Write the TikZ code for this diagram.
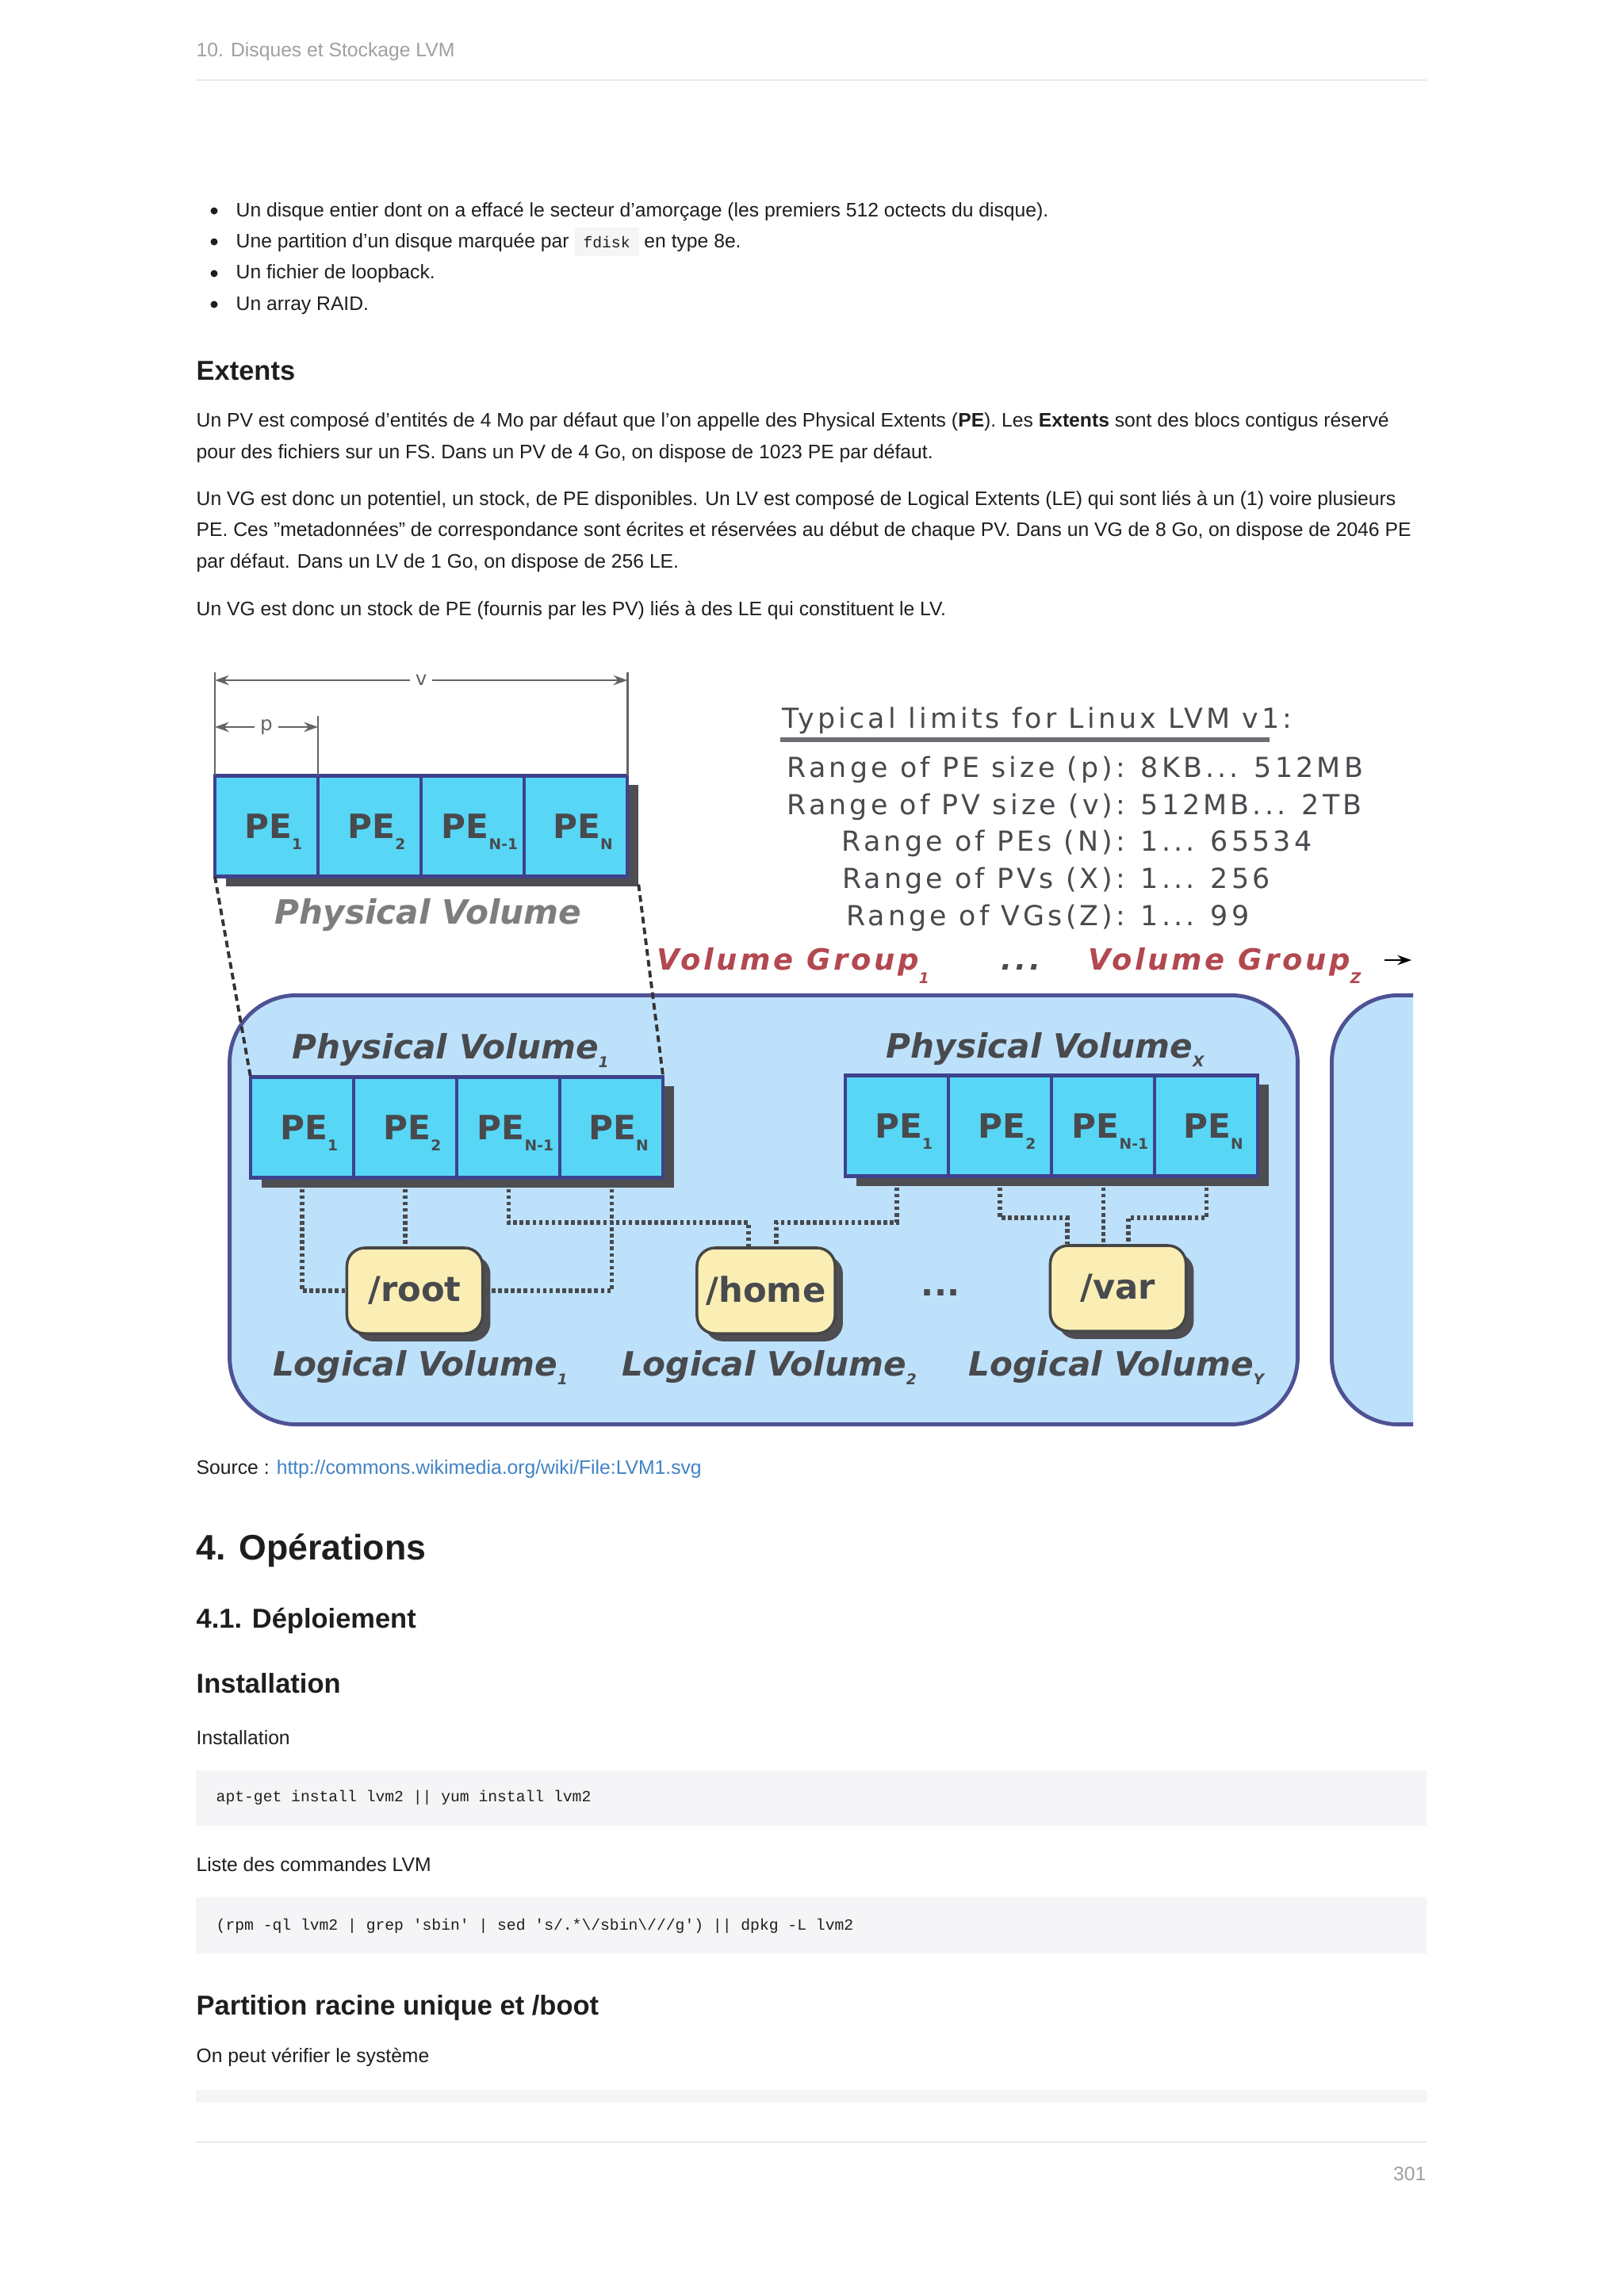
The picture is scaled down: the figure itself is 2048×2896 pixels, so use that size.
\documentclass[tikz,border=0pt]{standalone}
\usepackage{fontspec}
\setmainfont{Liberation Sans}
\setmonofont{Liberation Mono}
\newfontfamily\dvsans{DejaVu Sans}
\newfontfamily\dvspaced[LetterSpace=12]{DejaVu Sans}
\newfontfamily\dvwide[LetterSpace=10]{DejaVu Sans}
\usetikzlibrary{positioning,shadows,arrows.meta}

\definecolor{pefill}{RGB}{88,214,246}
\definecolor{peedge}{RGB}{62,66,140}
\definecolor{shadowgray}{RGB}{78,78,82}
\definecolor{vgfill}{RGB}{190,225,251}
\definecolor{vgedge}{RGB}{78,82,148}
\definecolor{lvfill}{RGB}{250,238,180}
\definecolor{lvedge}{RGB}{70,70,70}
\definecolor{inkgray}{RGB}{72,74,78}
\definecolor{lightink}{RGB}{125,125,125}
\definecolor{vgred}{RGB}{178,72,80}
\definecolor{linkblue}{RGB}{65,131,196}
\definecolor{codebg}{RGB}{245,245,247}
\definecolor{rulegray}{RGB}{234,234,236}
\definecolor{headgray}{RGB}{160,160,160}
\definecolor{bodyink}{RGB}{30,30,30}
\definecolor{dimgray}{RGB}{100,100,100}

% subscript put lower than the base line
\newcommand\sbs[2][4pt]{\lower#1\hbox{\fontsize{5.3}{5}\selectfont#2}}

\tikzset{
  body/.style={anchor=base west, inner sep=0pt, text=bodyink, align=left,
    font=\fontsize{7.02}{11.2}\selectfont},
  head/.style={body, font=\fontsize{9.8}{12}\selectfont\bfseries},
  codeline/.style={anchor=base west, inner sep=0pt, text=bodyink,
    font=\ttfamily\fontsize{5.6}{7}\selectfont},
  pecell/.style={draw=peedge, fill=pefill, line width=1.2pt, inner sep=0pt,
    outer sep=0pt, minimum width=1.3cm, minimum height=1.27cm, text depth=0pt,
    text=inkgray, font=\dvsans\bfseries\fontsize{12}{12}\selectfont,
    drop shadow={shadow xshift=4pt, shadow yshift=-3.4pt, fill=shadowgray, opacity=1}},
  lvbox/.style={draw=lvedge, fill=lvfill, line width=1pt, rounded corners=6.5pt,
    minimum width=1.71cm, minimum height=1.08cm, text=inkgray,
    font=\dvsans\bfseries\fontsize{12.3}{12}\selectfont,
    drop shadow={shadow xshift=2.8pt, shadow yshift=-2.8pt, fill=shadowgray, opacity=1}},
  vgbox/.style={draw=vgedge, fill=vgfill, line width=1.4pt, rounded corners=24pt},
  vlabel/.style={anchor=base, inner sep=0pt, text=inkgray,
    font=\dvsans\bfseries\itshape\fontsize{12}{12}\selectfont},
  vgtitle/.style={anchor=base west, inner sep=0pt, text=vgred,
    font=\dvwide\bfseries\itshape\fontsize{10.5}{11}\selectfont},
  limit/.style={anchor=base east, inner sep=0pt, text=inkgray,
    font=\dvspaced\fontsize{9.9}{10}\selectfont},
  limitval/.style={limit, anchor=base west},
  dimline/.style={draw=dimgray, line width=0.8pt},
  pvdash/.style={draw=black!80, line width=1.1pt, dash pattern=on 2.4pt off 1.5pt},
  lvlink/.style={draw=inkgray, line width=1.5pt, dash pattern=on 1.3pt off 1pt},
  >={Stealth[length=5pt,width=3.5pt]}
}

\begin{document}
\begin{tikzpicture}[x=0.01cm, y=-0.01cm]
\useasboundingbox (0,0) rectangle (2048,2896);
\fill[white] (0,0) rectangle (2048,2896);

% page head
\node[body, text=headgray] (pagehead) at (247,71) {10. Disques et Stockage LVM};
\draw[rulegray, line width=0.8pt] (247,101) -- (1799,101);

% list
\fill[bodyink] (270,266) circle (4.5);
\fill[bodyink] (270,305) circle (4.5);
\fill[bodyink] (270,345) circle (4.5);
\fill[bodyink] (270,384) circle (4.5);
\node[body] (item1) at (297,273) {Un disque entier dont on a effacé le secteur d'amorçage (les premiers 512 octects du disque).};
\node[body] (item2) at (297,312) {Une partition d'un disque marquée par {\setlength\fboxsep{1.1mm}\colorbox{codebg}{\ttfamily\fontsize{5.6}{7}\selectfont fdisk}} en type 8e.};
\node[body] (item3) at (297,351) {Un fichier de loopback.};
\node[body] (item4) at (297,391) {Un array RAID.};

\node[head] (extents) at (247,479) {Extents};
\node[body] (para1) at (247,578) {Un PV est composé d'entités de 4 Mo par défaut que l'on appelle des Physical Extents (\textbf{PE}). Les \textbf{Extents} sont des blocs contigus réservé\\pour des fichiers sur un FS. Dans un PV de 4 Go, on dispose de 1023 PE par défaut.};
\node[body] (para2) at (247,716) {Un VG est donc un potentiel, un stock, de PE disponibles. Un LV est composé de Logical Extents (LE) qui sont liés à un (1) voire plusieurs\\PE. Ces "metadonnées" de correspondance sont écrites et réservées au début de chaque PV. Dans un VG de 8 Go, on dispose de 2046 PE\\par défaut. Dans un LV de 1 Go, on dispose de 256 LE.};
\node[body] (para3) at (247,776) {Un VG est donc un stock de PE (fournis par les PV) liés à des LE qui constituent le LV.};

% lone physical volume
\node[pecell] (t1) at (336,1042) {\hspace*{5pt}PE\sbs{1}};
\node[pecell, right=0pt of t1] (t2) {\hspace*{5pt}PE\sbs{2}};
\node[pecell, right=0pt of t2] (t3) {\hspace*{5pt}PE\sbs{N-1}};
\node[pecell, right=0pt of t3] (t4) {\hspace*{5pt}PE\sbs{N}};
\node[vlabel, text=lightink] (pvname) at (540,1165) {Physical Volume};

\coordinate (vtop) at (0,848);
\coordinate (vlev) at (0,858);
\coordinate (ptop) at (0,903);
\coordinate (plev) at (0,917);
\draw[dimline] (t1.north west) -- (t1.north west |- vtop);
\draw[dimline] (t4.north east) -- (t4.north east |- vtop);
\draw[dimline] (t1.north east) -- (t1.north east |- ptop);
\draw[dimline, <->] (t1.north west |- vlev) -- (t4.north east |- vlev)
  node[midway, fill=white, inner sep=2pt, text=dimgray, font=\dvsans\fontsize{7}{7}\selectfont] (vsize) {v};
\draw[dimline, <->] (t1.north west |- plev) -- (t1.north east |- plev)
  node[midway, fill=white, inner sep=2pt, text=dimgray, font=\dvsans\fontsize{7}{7}\selectfont] (psize) {p};

% limits
\node[limitval] (limtitle) at (986,918) {Typical limits for Linux LVM v1:};
\draw[inkgray!80, line width=1.6pt] (984,933) -- (1601,933);
\node[limit] (lim1) at (1420,980) {Range of PE size (p):};
\node[limit] (lim2) at (1420,1027) {Range of PV size (v):};
\node[limit] (lim3) at (1420,1073) {Range of PEs (N):};
\node[limit] (lim4) at (1420,1120) {Range of PVs (X):};
\node[limit] (lim5) at (1420,1167) {Range of VGs(Z):};
\node[limitval] (val1) at (1438,980) {8KB... 512MB};
\node[limitval] (val2) at (1438,1027) {512MB... 2TB};
\node[limitval] (val3) at (1438,1073) {1... 65534};
\node[limitval] (val4) at (1438,1120) {1... 256};
\node[limitval] (val5) at (1438,1167) {1... 99};

% volume groups
\node[vgtitle] (vg1name) at (828,1223) {Volume Group\sbs[5pt]{1}};
\node[vgtitle, text=inkgray] (vgdots) at (1262,1223) {...};
\node[vgtitle] (vgzname) at (1372,1223) {Volume Group\sbs[5pt]{Z}};
\coordinate (vgfrom) at (1746,1211);
\coordinate (vgnext) at (1780,1211);
\draw[->, line width=0.7pt] (vgfrom) -- (vgnext);

\node[vgbox, minimum width=13.46cm, minimum height=5.41cm] (vg1) at (963,1526) {};
\begin{scope}
  \clip (1650,1240) rectangle (1782,1815);
  \node[vgbox, minimum width=4cm, minimum height=5.41cm, anchor=west] (vg2) at (1677,1526) {};
\end{scope}

% physical volumes in the group
\node[vlabel] (pv1name) at (568,1335) {Physical Volume\sbs[3.3pt]{1}};
\node[pecell] (a1) at (381,1422) {\hspace*{5pt}PE\sbs{1}};
\node[pecell, right=0pt of a1] (a2) {\hspace*{5pt}PE\sbs{2}};
\node[pecell, right=0pt of a2] (a3) {\hspace*{5pt}PE\sbs{N-1}};
\node[pecell, right=0pt of a3] (a4) {\hspace*{5pt}PE\sbs{N}};

\node[vlabel] (pvxname) at (1318,1334) {Physical Volume\sbs[3.3pt]{X}};
\node[pecell] (x1) at (1131,1420) {\hspace*{5pt}PE\sbs{1}};
\node[pecell, right=0pt of x1] (x2) {\hspace*{5pt}PE\sbs{2}};
\node[pecell, right=0pt of x2] (x3) {\hspace*{5pt}PE\sbs{N-1}};
\node[pecell, right=0pt of x3] (x4) {\hspace*{5pt}PE\sbs{N}};

\draw[pvdash] (t1.south west) -- (a1.north west);
\draw[pvdash] ([shift={(14,10)}]t4.south east) -- (a4.north east);

% logical volumes
\node[lvbox] (root) at (523,1628) {/root};
\node[lvbox] (home) at (966,1628) {/home};
\node[lvbox] (var) at (1410,1625) {/var};
\node[inner sep=0pt, text=inkgray, font=\dvsans\bfseries\fontsize{12}{12}\selectfont] (lvdots) at (1186,1630) {...};
\node[vlabel] (lv1name) at (530,1735) {Logical Volume\sbs[3.3pt]{1}};
\node[vlabel] (lv2name) at (970,1735) {Logical Volume\sbs[3.3pt]{2}};
\node[vlabel] (lvyname) at (1408,1735) {Logical Volume\sbs[3.3pt]{Y}};

\coordinate (busA) at (0,1542);
\coordinate (busB) at (0,1536);
\draw[lvlink] ([yshift=-4pt]a1.south) |- (root.west);
\draw[lvlink] ([yshift=-4pt]a2.south) -- (a2.south |- root.north);
\draw[lvlink] ([yshift=-4pt]a3.south) -- (a3.south |- busA) -| ([xshift=-2.2mm]home.north);
\draw[lvlink] ([yshift=-4pt]a4.south) |- (root.east);
\draw[lvlink] ([yshift=-4pt]x1.south) -- (x1.south |- busA) -| ([xshift=1.3mm]home.north);
\draw[lvlink] ([yshift=-4pt]x2.south) -- (x2.south |- busB) -| ([xshift=-6.4mm]var.north);
\draw[lvlink] ([yshift=-4pt]x3.south) -- (x3.south |- var.north);
\draw[lvlink] ([yshift=-4pt]x4.south) -- (x4.south |- busB) -| ([xshift=1.3mm]var.north);

% rest of the page
\node[body] (source) at (247,1859) {Source : \textcolor{linkblue}{http://commons.wikimedia.org/wiki/File:LVM1.svg}};
\node[head, font=\fontsize{12.7}{14}\selectfont\bfseries] (ops) at (247,1967) {4. Opérations};
\node[head] (deploy) at (247,2053) {4.1. Déploiement};
\node[head] (install) at (247,2135) {Installation};
\node[body] (installtxt) at (247,2200) {Installation};
\fill[codebg] (247,2233) rectangle (1799,2303);
\node[codeline] (code1) at (272,2272) {apt-get install lvm2 || yum install lvm2};
\node[body] (listtxt) at (247,2360) {Liste des commandes LVM};
\fill[codebg] (247,2393) rectangle (1799,2464);
\node[codeline] (code2) at (272,2434) {(rpm -ql lvm2 | grep 'sbin' | sed 's/.*\textbackslash/sbin\textbackslash///g') || dpkg -L lvm2};
\node[head] (rootpart) at (247,2541) {Partition racine unique et /boot};
\node[body] (checktxt) at (247,2601) {On peut vérifier le système};
\fill[codebg] (247,2636) rectangle (1799,2652);
\draw[rulegray, line width=0.8pt] (247,2702) -- (1799,2702);
\node[body, anchor=base east, text=headgray] (pagenum) at (1799,2750) {301};
\end{tikzpicture}
\end{document}
